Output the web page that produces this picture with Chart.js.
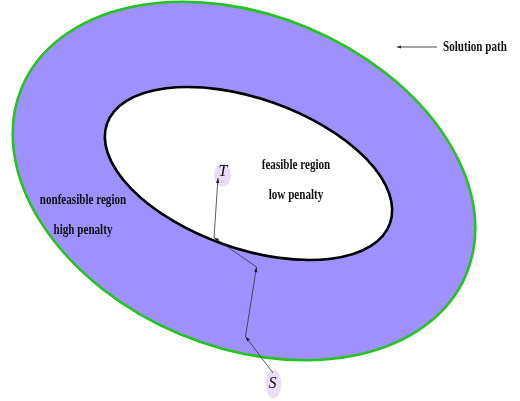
<!DOCTYPE html>
<html>
<head>
<meta charset="utf-8">
<script src="https://cdn.jsdelivr.net/npm/chart.js@4.4.0/dist/chart.umd.min.js"></script>
<style>
  html, body { margin: 0; padding: 0; background: #fff; }
  #wrap { width: 520px; height: 401px; }
</style>
</head>
<body>
<div id="wrap"><canvas id="chart" width="520" height="401"></canvas></div>
<script>
// regions: outer = nonfeasible (high penalty), inner = feasible (low penalty)
const regionNames = ['nonfeasible region', 'feasible region'];
const regionCenterX = [244, 248.5];
const regionCenterY = [181, 173.5];
const regionRadiusX = [241, 150];
const regionRadiusY = [166, 75];
const regionTilt = [22.8, 19.4]; // degrees

// solution path from S to T
const pathX = [273, 245.5, 256.5, 214, 218];
const pathY = [373, 336.5, 267, 237.5, 178];

// endpoint nodes
const nodeLabels = ['S', 'T'];
const nodeX = [273.5, 222.5];
const nodeY = [384, 175];
const nodeRadiusX = [8, 8.5];
const nodeRadiusY = [14, 11.5];
const nodeTextX = [272.5, 223];
const nodeTextY = [384, 172];

// text labels
const labelLines = [['nonfeasible region', 'high penalty'], ['feasible region', 'low penalty']];
const labelX = [83, 296];
const labelY = [200, 165];
const labelGap = 30;

const legendText = 'Solution path';

const FONT = '"Liberation Serif", "DejaVu Serif", serif';

function drawCondensed(ctx, text, x, y, align) {
  ctx.save();
  ctx.translate(x, y);
  ctx.scale(0.74, 1);
  ctx.textAlign = align;
  ctx.textBaseline = 'middle';
  ctx.fillText(text, 0, 0);
  ctx.restore();
}

function arrowHead(ctx, x0, y0, x1, y1, len, half) {
  const ang = Math.atan2(y1 - y0, x1 - x0);
  ctx.beginPath();
  ctx.moveTo(x1, y1);
  ctx.lineTo(x1 - len * Math.cos(ang) + half * Math.sin(ang), y1 - len * Math.sin(ang) - half * Math.cos(ang));
  ctx.lineTo(x1 - len * Math.cos(ang) - half * Math.sin(ang), y1 - len * Math.sin(ang) + half * Math.cos(ang));
  ctx.closePath();
  ctx.fill();
}

// draws the two regions and the node bubbles under the path
const regionPlugin = {
  id: 'regions',
  beforeDatasetsDraw(chart) {
    const { ctx, scales: { x, y } } = chart;
    const fills = ['#9e90ff', '#ffffff'];
    const strokes = ['#22c41e', '#000000'];
    regionNames.forEach((name, i) => {
      const cx = x.getPixelForValue(regionCenterX[i]);
      const cy = y.getPixelForValue(regionCenterY[i]);
      const rx = Math.abs(x.getPixelForValue(regionCenterX[i] + regionRadiusX[i]) - cx);
      const ry = Math.abs(y.getPixelForValue(regionCenterY[i] + regionRadiusY[i]) - cy);
      ctx.save();
      ctx.beginPath();
      ctx.ellipse(cx, cy, rx, ry, regionTilt[i] * Math.PI / 180, 0, Math.PI * 2);
      ctx.fillStyle = fills[i];
      ctx.fill();
      ctx.lineWidth = 2.6;
      ctx.strokeStyle = strokes[i];
      ctx.stroke();
      ctx.restore();
    });

    nodeLabels.forEach((lab, i) => {
      const cx = x.getPixelForValue(nodeX[i]);
      const cy = y.getPixelForValue(nodeY[i]);
      const rx = Math.abs(x.getPixelForValue(nodeX[i] + nodeRadiusX[i]) - cx);
      const ry = Math.abs(y.getPixelForValue(nodeY[i] + nodeRadiusY[i]) - cy);
      ctx.save();
      ctx.beginPath();
      ctx.ellipse(cx, cy, rx, ry, 0, 0, Math.PI * 2);
      ctx.fillStyle = '#e9def4';
      ctx.fill();
      ctx.restore();
    });
  },
  afterDatasetsDraw(chart) {
    const { ctx, scales: { x, y } } = chart;
    ctx.save();
    ctx.fillStyle = '#222';
    // arrowheads at the end of each step
    for (let i = 1; i < pathX.length; i++) {
      arrowHead(ctx,
        x.getPixelForValue(pathX[i - 1]), y.getPixelForValue(pathY[i - 1]),
        x.getPixelForValue(pathX[i]), y.getPixelForValue(pathY[i]), 5, 1.6);
    }

    // node letters
    ctx.fillStyle = '#111';
    ctx.font = 'italic 16px ' + FONT;
    ctx.textAlign = 'center';
    ctx.textBaseline = 'middle';
    nodeLabels.forEach((lab, i) => {
      ctx.fillText(lab, x.getPixelForValue(nodeTextX[i]), y.getPixelForValue(nodeTextY[i]));
    });

    // region labels
    ctx.font = 'bold 15px ' + FONT;
    labelLines.forEach((lines, i) => {
      lines.forEach((t, j) => {
        drawCondensed(ctx, t, x.getPixelForValue(labelX[i]), y.getPixelForValue(labelY[i] + j * labelGap), 'center');
      });
    });

    // legend: arrow + text
    const lx0 = x.getPixelForValue(437), lx1 = x.getPixelForValue(397), ly = y.getPixelForValue(47);
    ctx.strokeStyle = '#222';
    ctx.lineWidth = 0.8;
    ctx.beginPath();
    ctx.moveTo(lx0, ly);
    ctx.lineTo(lx1, ly);
    ctx.stroke();
    ctx.fillStyle = '#222';
    arrowHead(ctx, lx0, ly, lx1, ly, 4, 1.5);
    ctx.fillStyle = '#111';
    drawCondensed(ctx, legendText, x.getPixelForValue(443), ly, 'left');
    ctx.restore();
  }
};

new Chart(document.getElementById('chart'), {
  type: 'scatter',
  data: {
    datasets: [{
      label: legendText,
      data: pathX.map((v, i) => ({ x: v, y: pathY[i] })),
      showLine: true,
      borderColor: '#333',
      borderWidth: 0.8,
      pointRadius: 0,
      fill: false
    }]
  },
  options: {
    responsive: false,
    animation: false,
    layout: { padding: 0 },
    plugins: { legend: { display: false }, tooltip: { enabled: false } },
    scales: {
      x: { type: 'linear', min: 0, max: 520, display: false },
      y: { type: 'linear', min: 0, max: 401, reverse: true, display: false }
    }
  },
  plugins: [regionPlugin]
});
</script>
</body>
</html>
